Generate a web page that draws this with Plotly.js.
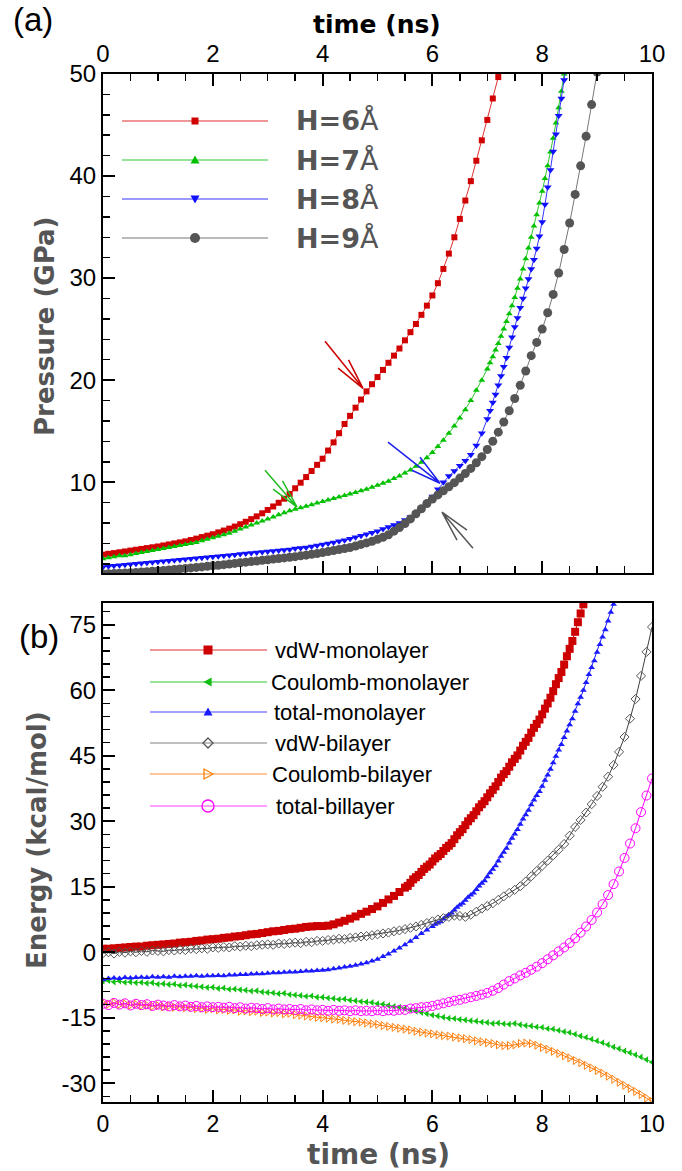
<!DOCTYPE html>
<html><head><meta charset="utf-8">
<script src="https://cdn.plot.ly/plotly-3.0.1.min.js"></script>
<style>html,body{margin:0;padding:0;background:#fff}#chart{width:682px;height:1171px}</style>
</head><body><div id="chart"></div>
<script>
// ---------- data: panel (a) pressure (GPa) vs time (ns) ----------
const timeH6 = [0,0.1,0.2,0.3,0.4,0.5,0.6,0.7,0.8,0.9,1.0,1.1,1.2,1.3,1.4,1.5,1.6,1.7,1.8,1.9,2.0,2.1,2.2,2.3,2.4,2.5,2.6,2.7,2.8,2.9,3.0,3.1,3.2,3.3,3.4,3.5,3.6,3.7,3.8,3.9,4.0,4.1,4.2,4.3,4.4,4.5,4.6,4.7,4.8,4.9,5.0,5.1,5.2,5.3,5.4,5.5,5.6,5.7,5.8,5.9,6.0,6.1,6.2,6.3,6.4,6.5,6.6,6.7,6.8,6.9,7.0,7.1,7.2];
const pressureH6 = [2.90,2.98,3.05,3.13,3.21,3.30,3.38,3.46,3.54,3.62,3.70,3.80,3.90,4.00,4.10,4.20,4.33,4.47,4.62,4.76,4.90,5.08,5.26,5.45,5.65,5.88,6.12,6.38,6.65,6.95,7.28,7.62,7.98,8.38,8.85,9.4,9.95,10.5,11.1,11.7,12.3,13.1,13.9,14.8,15.7,16.5,17.3,18.1,18.9,19.6,20.3,21.0,21.7,22.4,23.1,23.9,24.7,25.5,26.4,27.3,28.3,29.5,30.9,32.4,34.0,35.8,37.6,39.5,41.5,43.5,45.5,47.6,49.7];
const timeH7 = [0,0.1,0.2,0.3,0.4,0.5,0.6,0.7,0.8,0.9,1.0,1.1,1.2,1.3,1.4,1.5,1.6,1.7,1.8,1.9,2.0,2.1,2.2,2.3,2.4,2.5,2.6,2.7,2.8,2.9,3.0,3.1,3.2,3.3,3.4,3.5,3.6,3.7,3.8,3.9,4.0,4.1,4.2,4.3,4.4,4.5,4.6,4.7,4.8,4.9,5.0,5.1,5.2,5.3,5.4,5.5,5.6,5.7,5.8,5.9,6.0,6.1,6.2,6.3,6.4,6.5,6.6,6.7,6.8,6.9,7.0,7.05,7.1,7.15,7.2,7.25,7.3,7.35,7.4,7.45,7.5,7.55,7.6,7.65,7.7,7.75,7.8,7.85,7.9,7.95,8.0,8.05,8.1,8.15,8.2,8.25,8.3,8.35,8.4];
const pressureH7 = [2.5,2.6,2.7,2.8,2.8,2.9,3.0,3.1,3.2,3.3,3.4,3.5,3.6,3.7,3.8,3.9,4.0,4.1,4.25,4.4,4.55,4.7,4.85,5.0,5.2,5.4,5.6,5.8,6.0,6.2,6.4,6.6,6.8,7.0,7.2,7.35,7.5,7.65,7.8,7.95,8.1,8.25,8.4,8.55,8.7,8.85,9.0,9.15,9.3,9.5,9.7,9.9,10.1,10.35,10.6,10.9,11.2,11.55,11.95,12.4,12.9,13.5,14.1,14.8,15.5,16.3,17.1,18.0,19.0,20.0,21.1,21.7,22.3,22.95,23.6,24.3,25.0,25.75,26.5,27.3,28.1,29.0,29.9,30.9,31.9,32.95,34.0,35.1,36.2,37.35,38.5,39.75,41.0,42.35,43.7,45.2,46.7,48.3,50.0];
const timeH8 = [0,0.1,0.2,0.3,0.4,0.5,0.6,0.7,0.8,0.9,1.0,1.1,1.2,1.3,1.4,1.5,1.6,1.7,1.8,1.9,2.0,2.1,2.2,2.3,2.4,2.5,2.6,2.7,2.8,2.9,3.0,3.1,3.2,3.3,3.4,3.5,3.6,3.7,3.8,3.9,4.0,4.1,4.2,4.3,4.4,4.5,4.6,4.7,4.8,4.9,5.0,5.1,5.2,5.3,5.4,5.5,5.6,5.7,5.8,5.9,6.0,6.1,6.2,6.3,6.4,6.5,6.6,6.7,6.8,6.9,7.0,7.05,7.1,7.15,7.2,7.25,7.3,7.35,7.4,7.45,7.5,7.55,7.6,7.65,7.7,7.75,7.8,7.85,7.9,7.95,8.0,8.05,8.1,8.15,8.2,8.25,8.3,8.35,8.4,8.45,8.5];
const pressureH8 = [1.7,1.75,1.8,1.85,1.9,1.95,2.0,2.05,2.1,2.15,2.2,2.25,2.3,2.35,2.4,2.45,2.5,2.55,2.6,2.65,2.7,2.75,2.8,2.85,2.9,2.95,3.0,3.05,3.1,3.15,3.2,3.25,3.3,3.35,3.4,3.5,3.55,3.6,3.7,3.8,3.9,4.0,4.1,4.2,4.3,4.45,4.6,4.75,4.9,5.05,5.2,5.4,5.6,5.8,6.0,6.3,6.6,7.0,7.5,8.0,8.6,9.3,10.0,10.6,11.1,11.6,12.1,12.7,13.6,14.8,16.2,17.0,17.8,18.6,19.5,20.4,21.3,22.2,23.2,24.2,25.2,26.1,27.1,28.0,29.0,29.9,30.9,31.8,32.9,34.1,35.5,37.2,38.9,40.6,42.4,44.1,45.9,47.6,49.4,51.2,53.0];
const timeH9 = [0,0.1,0.2,0.3,0.4,0.5,0.6,0.7,0.8,0.9,1.0,1.1,1.2,1.3,1.4,1.5,1.6,1.7,1.8,1.9,2.0,2.1,2.2,2.3,2.4,2.5,2.6,2.7,2.8,2.9,3.0,3.1,3.2,3.3,3.4,3.5,3.6,3.7,3.8,3.9,4.0,4.1,4.2,4.3,4.4,4.5,4.6,4.7,4.8,4.9,5.0,5.1,5.2,5.3,5.4,5.5,5.6,5.7,5.8,5.9,6.0,6.1,6.2,6.3,6.4,6.5,6.6,6.7,6.8,6.9,7.0,7.1,7.2,7.3,7.4,7.5,7.6,7.7,7.8,7.9,8.0,8.1,8.2,8.3,8.4,8.5,8.6,8.7,8.8,8.9,9.0];
const pressureH9 = [1.0,1.02,1.05,1.08,1.1,1.13,1.16,1.2,1.23,1.27,1.3,1.35,1.4,1.45,1.5,1.55,1.6,1.65,1.7,1.75,1.8,1.86,1.92,1.98,2.04,2.1,2.16,2.22,2.28,2.34,2.4,2.46,2.52,2.58,2.64,2.7,2.78,2.85,2.93,3.0,3.1,3.2,3.3,3.4,3.5,3.6,3.75,3.9,4.05,4.2,4.4,4.6,4.85,5.2,5.55,5.95,6.4,6.9,7.4,7.9,8.35,8.75,9.15,9.55,9.95,10.4,10.85,11.35,11.9,12.5,13.2,14.0,14.9,15.9,17.0,18.2,19.5,20.9,22.4,23.7,25.0,26.6,28.4,30.5,32.8,35.4,38.2,41.0,43.9,47.0,50.2];
const topNames = ['H=6','H=7','H=8','H=9'];

// ---------- data: panel (b) energy (kcal/mol) vs time (ns) ----------
const timeB = [0,0.1,0.2,0.3,0.4,0.5,0.6,0.7,0.8,0.9,1.0,1.1,1.2,1.3,1.4,1.5,1.6,1.7,1.8,1.9,2.0,2.1,2.2,2.3,2.4,2.5,2.6,2.7,2.8,2.9,3.0,3.1,3.2,3.3,3.4,3.5,3.6,3.7,3.8,3.9,4.0,4.1,4.2,4.3,4.4,4.5,4.6,4.7,4.8,4.9,5.0,5.1,5.2,5.3,5.4,5.5,5.6,5.7,5.8,5.9,6.0,6.1,6.2,6.3,6.4,6.5,6.6,6.7,6.8,6.9,7.0,7.1,7.2,7.3,7.4,7.5,7.6,7.7,7.8,7.9,8.0,8.1,8.2,8.3,8.4,8.5,8.6,8.7,8.8,8.9,9.0,9.1,9.2,9.3,9.4,9.5,9.6,9.7,9.8,9.9,10.0];
const timeVdwMono = [0,0.1,0.2,0.3,0.4,0.5,0.6,0.7,0.8,0.9,1.0,1.1,1.2,1.3,1.4,1.5,1.6,1.7,1.8,1.9,2.0,2.1,2.2,2.3,2.4,2.5,2.6,2.7,2.8,2.9,3.0,3.1,3.2,3.3,3.4,3.5,3.6,3.7,3.8,3.9,4.0,4.1,4.2,4.3,4.4,4.5,4.6,4.7,4.8,4.9,5.0,5.1,5.2,5.3,5.4,5.5,5.55,5.6,5.65,5.7,5.75,5.8,5.85,5.9,5.95,6.0,6.05,6.1,6.15,6.2,6.25,6.3,6.35,6.4,6.45,6.5,6.55,6.6,6.65,6.7,6.75,6.8,6.85,6.9,6.95,7.0,7.05,7.1,7.15,7.2,7.25,7.3,7.35,7.4,7.45,7.5,7.55,7.6,7.65,7.7,7.75,7.8,7.85,7.9,7.95,8.0,8.05,8.1,8.15,8.2,8.25,8.3,8.35,8.4,8.45,8.5,8.55,8.6,8.65,8.7,8.75,8.8];
const vdwMono = [0.8,0.8,0.9,1.0,1.1,1.2,1.3,1.3,1.5,1.6,1.7,1.8,1.9,2.0,2.2,2.3,2.4,2.6,2.7,2.9,3.0,3.1,3.3,3.4,3.6,3.7,3.9,4.1,4.2,4.4,4.6,4.8,4.9,5.1,5.3,5.4,5.6,5.8,5.9,6.0,6.0,6.1,6.4,6.8,7.2,7.7,8.2,8.8,9.3,9.9,10.5,11.3,12.1,12.9,13.8,14.8,15.2,15.9,16.7,17.2,17.7,18.4,19.1,19.6,20.1,20.8,21.5,22.0,22.5,23.2,23.9,24.4,25.0,25.9,26.8,27.5,28.2,29.1,30.0,30.7,31.4,32.3,33.2,33.9,34.6,35.5,36.4,37.2,38.0,39.0,40.0,40.8,41.5,42.5,43.5,44.3,45.1,46.2,47.3,48.2,49.1,50.3,51.4,52.3,53.3,54.5,55.8,57.0,58.3,59.8,61.4,62.8,64.2,65.9,67.8,69.5,71.3,73.4,75.6,77.6,79.7,82.0];
const coulombMono = [-6.6,-6.5,-6.8,-6.6,-6.9,-6.8,-7.0,-6.9,-7.1,-7.0,-7.3,-7.2,-7.4,-7.3,-7.6,-7.5,-7.7,-7.8,-7.9,-8.1,-8.0,-8.3,-8.2,-8.5,-8.4,-8.6,-8.7,-8.9,-8.8,-9.1,-9.2,-9.3,-9.5,-9.4,-9.7,-9.8,-9.9,-10.1,-10.0,-10.3,-10.3,-10.5,-10.6,-10.8,-10.7,-11.0,-11.1,-11.3,-11.4,-11.5,-11.8,-11.9,-12.2,-12.4,-12.6,-12.9,-13.2,-13.5,-13.8,-14.1,-14.4,-14.6,-14.9,-15.1,-15.2,-15.4,-15.5,-15.7,-15.8,-16.0,-16.1,-16.3,-16.2,-16.4,-16.5,-16.3,-16.6,-16.8,-16.9,-17.1,-17.2,-17.5,-17.6,-17.9,-18.2,-18.4,-18.8,-19.2,-19.5,-19.9,-20.3,-20.7,-21.2,-21.7,-22.1,-22.6,-23.0,-23.5,-24.0,-24.6,-25.2];
const timeTotalMono = [0,0.1,0.2,0.3,0.4,0.5,0.6,0.7,0.8,0.9,1.0,1.1,1.2,1.3,1.4,1.5,1.6,1.7,1.8,1.9,2.0,2.1,2.2,2.3,2.4,2.5,2.6,2.7,2.8,2.9,3.0,3.1,3.2,3.3,3.4,3.5,3.6,3.7,3.8,3.9,4.0,4.1,4.2,4.3,4.4,4.5,4.6,4.7,4.8,4.9,5.0,5.1,5.2,5.3,5.4,5.5,5.6,5.7,5.8,5.9,6.0,6.05,6.1,6.15,6.2,6.25,6.3,6.35,6.4,6.45,6.5,6.55,6.6,6.65,6.7,6.75,6.8,6.85,6.9,6.95,7.0,7.05,7.1,7.15,7.2,7.25,7.3,7.35,7.4,7.45,7.5,7.55,7.6,7.65,7.7,7.75,7.8,7.85,7.9,7.95,8.0,8.05,8.1,8.15,8.2,8.25,8.3,8.35,8.4,8.45,8.5,8.55,8.6,8.65,8.7,8.75,8.8,8.85,8.9,8.95,9.0,9.05,9.1,9.15,9.2,9.25,9.3,9.35,9.4];
const totalMono = [-6.3,-6.0,-5.9,-6.0,-5.8,-5.9,-5.8,-5.7,-5.8,-5.6,-5.7,-5.6,-5.7,-5.5,-5.6,-5.5,-5.5,-5.4,-5.5,-5.4,-5.4,-5.3,-5.4,-5.2,-5.2,-5.1,-5.1,-5.0,-4.9,-4.9,-4.8,-4.7,-4.7,-4.6,-4.5,-4.5,-4.4,-4.3,-4.3,-4.2,-4.1,-4.0,-3.8,-3.6,-3.4,-3.2,-3.0,-2.7,-2.4,-2.0,-1.6,-1.0,-0.4,0.3,1.0,1.7,2.5,3.4,4.3,5.1,5.9,6.4,6.7,7.0,7.6,8.2,8.6,9.0,9.7,10.3,10.8,11.2,11.9,12.6,13.1,13.6,14.4,15.2,15.8,16.4,17.3,18.2,19.0,19.8,20.9,22.0,22.9,23.8,25.0,26.1,27.1,28.1,29.3,30.5,31.5,32.5,33.8,34.9,35.9,36.8,38.0,39.4,40.6,41.9,43.4,44.9,46.3,47.6,49.2,50.7,52.1,53.5,55.2,56.9,58.4,60.0,61.8,63.6,65.2,66.8,68.7,70.5,72.2,73.9,75.9,77.9,79.7,81.5,83.5];
const vdwBi = [-0.2,0.0,-0.3,0.1,-0.1,0.2,0.0,0.3,0.1,0.4,0.3,0.2,0.5,0.4,0.6,0.5,0.8,0.7,0.9,0.8,1.1,1.0,1.2,1.1,1.4,1.3,1.5,1.4,1.6,1.7,1.8,1.7,2.0,1.9,2.1,2.2,2.1,2.4,2.3,2.6,2.6,2.8,2.9,3.1,3.0,3.3,3.4,3.6,3.7,3.9,4.1,4.3,4.5,4.8,5.0,5.3,5.6,5.9,6.3,6.7,7.1,7.5,7.8,8.1,8.4,8.3,8.1,8.6,9.3,10.0,10.6,11.2,12.0,12.8,13.6,14.3,15.1,16.2,17.4,18.6,19.8,21.0,22.2,23.5,24.8,26.7,28.7,30.3,32.0,33.9,35.8,37.9,40.2,42.9,45.9,49.3,53.5,58.0,63.3,68.8,74.5];
const coulombBi = [-11.6,-11.9,-11.5,-12.0,-11.8,-12.1,-11.9,-12.2,-12.1,-12.4,-12.2,-12.5,-12.3,-12.6,-12.5,-12.7,-12.6,-12.9,-12.8,-13.1,-12.9,-13.2,-13.1,-13.3,-13.2,-13.5,-13.4,-13.6,-13.5,-13.8,-13.7,-13.9,-13.8,-14.1,-14.0,-14.3,-14.4,-14.6,-14.7,-14.9,-15.0,-15.1,-15.3,-15.4,-15.6,-15.7,-15.9,-16.0,-16.2,-16.4,-16.5,-16.8,-17.0,-17.2,-17.4,-17.6,-17.8,-18.1,-18.3,-18.5,-18.7,-18.9,-19.1,-19.2,-19.4,-19.6,-19.8,-20.0,-20.3,-20.5,-20.7,-20.9,-21.2,-21.4,-21.4,-21.2,-20.9,-20.8,-20.9,-21.3,-21.8,-22.2,-22.7,-23.2,-23.7,-24.2,-24.8,-25.3,-25.9,-26.5,-27.1,-27.7,-28.4,-29.1,-29.8,-30.5,-31.2,-31.9,-32.6,-33.4,-34.2];
const totalBi = [-11.8,-12.1,-11.6,-12.0,-11.7,-12.2,-11.8,-12.1,-11.9,-12.3,-12.0,-12.2,-12.4,-12.1,-12.4,-12.2,-12.5,-12.3,-12.6,-12.4,-12.6,-12.5,-12.7,-12.5,-12.8,-12.6,-12.9,-12.7,-12.8,-13.0,-12.8,-13.1,-12.9,-13.1,-13.0,-13.2,-13.0,-13.3,-13.1,-13.3,-13.2,-13.4,-13.2,-13.4,-13.3,-13.5,-13.3,-13.5,-13.4,-13.5,-13.3,-13.5,-13.3,-13.4,-13.2,-13.2,-12.9,-12.8,-12.6,-12.5,-12.3,-12.0,-11.7,-11.4,-11.1,-10.9,-10.6,-10.3,-10.0,-9.7,-9.3,-8.8,-8.2,-7.4,-6.6,-6.0,-5.3,-4.7,-4.0,-3.3,-2.5,-1.6,-0.7,0.2,1.1,2.1,3.2,4.5,5.9,7.4,9.1,11.0,13.1,15.6,18.5,21.6,24.9,28.4,32.1,35.9,39.8];
const bottomNames = ['vdW-monolayer','Coulomb-monolayer','total-monolayer','vdW-bilayer','Coulomb-bilayer','total-billayer'];
const timeTicks = [0,2,4,6,8,10];
const energyTicks = [-30,-15,0,15,30,45,60,75];
const energyTickText = ['-30','-15','0','15','30','45','60','75'];

// ---------- styling ----------
const FONT = 'Liberation Sans, Arial, Helvetica, sans-serif';
const TFONT = 'DejaVu Sans, Verdana, sans-serif';
const L = 103, R = 652, T = 74, B = 1102;
const PX = X => (X - L) / (R - L);
const PY = Y => (B - Y) / (B - T);

const topStyles = [
  {line:'#e03030', mk:'#d00000', sym:'square', size:6},
  {line:'#30c830', mk:'#00c000', sym:'triangle-up', size:6},
  {line:'#3535ff', mk:'#1010ff', sym:'triangle-down', size:7},
  {line:'#777777', mk:'#555555', sym:'circle', size:9}
];
const topX = [timeH6, timeH7, timeH8, timeH9];
const topY = [pressureH6, pressureH7, pressureH8, pressureH9];
const traces = [];
topY.forEach((s, i) => {
  const st = topStyles[i];
  traces.push({x: topX[i], y: s, xaxis:'x', yaxis:'y', type:'scatter', mode:'lines+markers',
    name: topNames[i], line:{color:st.line, width:1}, marker:{symbol:st.sym, size:st.size, color:st.mk, line:{width:0}}});
});

const botStyles = [
  {line:'#cc0000', mk:'#cc0000', sym:'square', size:8, lw:0},
  {line:'#10c010', mk:'#10c010', sym:'triangle-left', size:6, lw:0},
  {line:'#1a1aff', mk:'#1a1aff', sym:'triangle-up', size:6, lw:0},
  {line:'#404040', mk:'#555555', sym:'diamond-open', size:7, lw:1},
  {line:'#ff8010', mk:'#ff8010', sym:'triangle-right-open', size:7, lw:1},
  {line:'#ff00ff', mk:'#ff00ff', sym:'circle-open', size:9, lw:1}
];
const botX = [timeVdwMono, timeB, timeTotalMono, timeB, timeB, timeB];
const botY = [vdwMono, coulombMono, totalMono, vdwBi, coulombBi, totalBi];
botY.forEach((s, i) => {
  const st = botStyles[i];
  traces.push({x: botX[i], y: s, xaxis:'x2', yaxis:'y2', type:'scatter', mode:'lines+markers',
    name: bottomNames[i], line:{color:st.line, width:1}, marker:{symbol:st.sym, size:st.size, color:st.mk, line:{width:st.lw, color:st.mk}}});
});

const axBase = {showgrid:false, zeroline:false, showline:true, linewidth:2, linecolor:'#000',
  ticks:'inside', ticklen:12, tickwidth:2, tickcolor:'#000',
  tickfont:{family:FONT, size:24, color:'#000'}};
const minorTicks = d => ({tick0:0, dtick:d, ticks:'inside', ticklen:7, tickwidth:1.5, tickcolor:'#000'});

const shapes = [];
const annotations = [];
function markerShape(X, Y, kind, color, open, s) {
  const base = {xref:'paper', yref:'paper', xsizemode:'pixel', ysizemode:'pixel', xanchor:PX(X), yanchor:PY(Y),
    line:{color:color, width: open ? 1.3 : 0}, fillcolor: open ? 'rgba(0,0,0,0)' : color};
  if (kind === 'square') return Object.assign(base, {type:'rect', x0:-s, x1:s, y0:-s, y1:s});
  if (kind === 'circle') return Object.assign(base, {type:'circle', x0:-s, x1:s, y0:-s, y1:s});
  let p;
  if (kind === 'up') p = `M0,${s}L${s},${-0.8*s}L${-s},${-0.8*s}Z`;
  if (kind === 'down') p = `M0,${-s}L${s},${0.8*s}L${-s},${0.8*s}Z`;
  if (kind === 'left') p = `M${-s},0L${0.8*s},${s}L${0.8*s},${-s}Z`;
  if (kind === 'right') p = `M${s},0L${-0.8*s},${s}L${-0.8*s},${-s}Z`;
  if (kind === 'diamond') p = `M0,${s}L${s},0L0,${-s}L${-s},0Z`;
  return Object.assign(base, {type:'path', path:p});
}

// legend (a)
const topRows = [121, 160, 199, 238];
const topKinds = ['square','up','down','circle'];
const topMkSize = [3.5, 4.5, 4.5, 5];
topRows.forEach((Y, i) => {
  shapes.push({type:'line', xref:'paper', yref:'paper', x0:PX(122), x1:PX(268), y0:PY(Y), y1:PY(Y), line:{color:topStyles[i].line, width:1.2}});
  shapes.push(markerShape(195, Y, topKinds[i], topStyles[i].mk, false, topMkSize[i]));
  annotations.push({xref:'paper', yref:'paper', x:PX(294), y:PY(Y), xanchor:'left', yanchor:'middle', showarrow:false,
    text:'<b>' + topNames[i] + '</b>Å', font:{family:TFONT, size:27, color:'#555'}});
});

// legend (b)
const botRows = [650, 682, 712, 743, 774, 806];
const botKinds = ['square','left','up','diamond','right','circle'];
const botOpen = [false,false,false,true,true,true];
const botMkSize = [4.5, 4.5, 4.5, 5, 5, 6];
const botTextX = [273, 269, 272, 273, 270, 274];
const botLineCol = ['#e03030','#30c830','#4545ff','#808080','#ff9030','#ff40ff'];
botRows.forEach((Y, i) => {
  shapes.push({type:'line', xref:'paper', yref:'paper', x0:PX(150), x1:PX(267), y0:PY(Y), y1:PY(Y), line:{color:botLineCol[i], width:1.2}});
  shapes.push(markerShape(208, Y, botKinds[i], botStyles[i].mk, botOpen[i], botMkSize[i]));
  annotations.push({xref:'paper', yref:'paper', x:PX(botTextX[i]), y:PY(Y), xanchor:'left', yanchor:'middle', showarrow:false,
    text:bottomNames[i], font:{family:FONT, size:22, color:'#000'}});
});

// arrows in panel (a): tip at data position, stem and barbs in pixels
function arrow(t, p, path, color) {
  shapes.push({type:'path', xref:'x', yref:'y', xsizemode:'pixel', ysizemode:'pixel', xanchor:t, yanchor:p,
    path:path, line:{color:color, width:1.5}});
}
arrow(4.736, 19.2, 'M-38,47L0,0M-14.5,28.5L0,0L-24.9,20.1', '#cc0000');
arrow(3.534, 7.55, 'M-32,37L0,0M-14.5,26.3L0,0L-23.9,18.1', '#22bb22');
arrow(6.138, 9.9, 'M-52,41L0,0M-20,26L0,0L-28,13', '#2020ee');
arrow(6.175, 7.06, 'M31,-36L0,0M25,-18L0,0L15,-28', '#555555');

// titles and panel labels
annotations.push({xref:'paper', yref:'paper', x:PX(377), y:PY(25), xanchor:'center', yanchor:'middle', showarrow:false,
  text:'<b>time (ns)</b>', font:{family:TFONT, size:25, color:'#000'}});
annotations.push({xref:'paper', yref:'paper', x:PX(378), y:PY(1171), xanchor:'center', yanchor:'bottom', yshift:-2, showarrow:false,
  text:'<b>time (ns)</b>', font:{family:TFONT, size:28, color:'#555'}});
annotations.push({xref:'paper', yref:'paper', x:PX(45), y:PY(326), xanchor:'center', yanchor:'middle', showarrow:false, textangle:-90,
  text:'<b>Pressure (GPa)</b>', font:{family:TFONT, size:26, color:'#555'}});
annotations.push({xref:'paper', yref:'paper', x:PX(37), y:PY(840), xanchor:'center', yanchor:'middle', showarrow:false, textangle:-90,
  text:'<b>Energy (kcal/mol)</b>', font:{family:TFONT, size:26, color:'#555'}});
annotations.push({xref:'paper', yref:'paper', x:PX(33), y:PY(20), xanchor:'center', yanchor:'middle', showarrow:false,
  text:'(a)', font:{family:FONT, size:33, color:'#000'}});
annotations.push({xref:'paper', yref:'paper', x:PX(39), y:PY(636), xanchor:'center', yanchor:'middle', showarrow:false,
  text:'(b)', font:{family:FONT, size:33, color:'#000'}});

const layout = {
  width:682, height:1171, margin:{l:L, r:682-R, t:T, b:1171-B, pad:0},
  paper_bgcolor:'#fff', plot_bgcolor:'#fff', showlegend:false,
  xaxis: Object.assign({}, axBase, {domain:[0,1], anchor:'y', side:'top', range:[0,10], tickvals:timeTicks, mirror:'ticks', minor:minorTicks(0.5)}),
  yaxis: Object.assign({}, axBase, {domain:[(B-573)/(B-T),1], anchor:'x', range:[1.1,50], tick0:0, dtick:10, mirror:true, minor:minorTicks(2)}),
  xaxis2: Object.assign({}, axBase, {domain:[0,1], anchor:'y2', range:[0,10], tickvals:timeTicks, mirror:true, minor:minorTicks(0.5),
    tickfont:{family:FONT, size:23, color:'#000'}}),
  yaxis2: Object.assign({}, axBase, {domain:[0,(B-603)/(B-T)], anchor:'x2', range:[-34.3,80], tickvals:energyTicks, ticktext:energyTickText, mirror:true, minor:minorTicks(3)}),
  shapes: shapes, annotations: annotations
};
Plotly.newPlot('chart', traces, layout, {displayModeBar:false, staticPlot:true});
</script></body></html>
